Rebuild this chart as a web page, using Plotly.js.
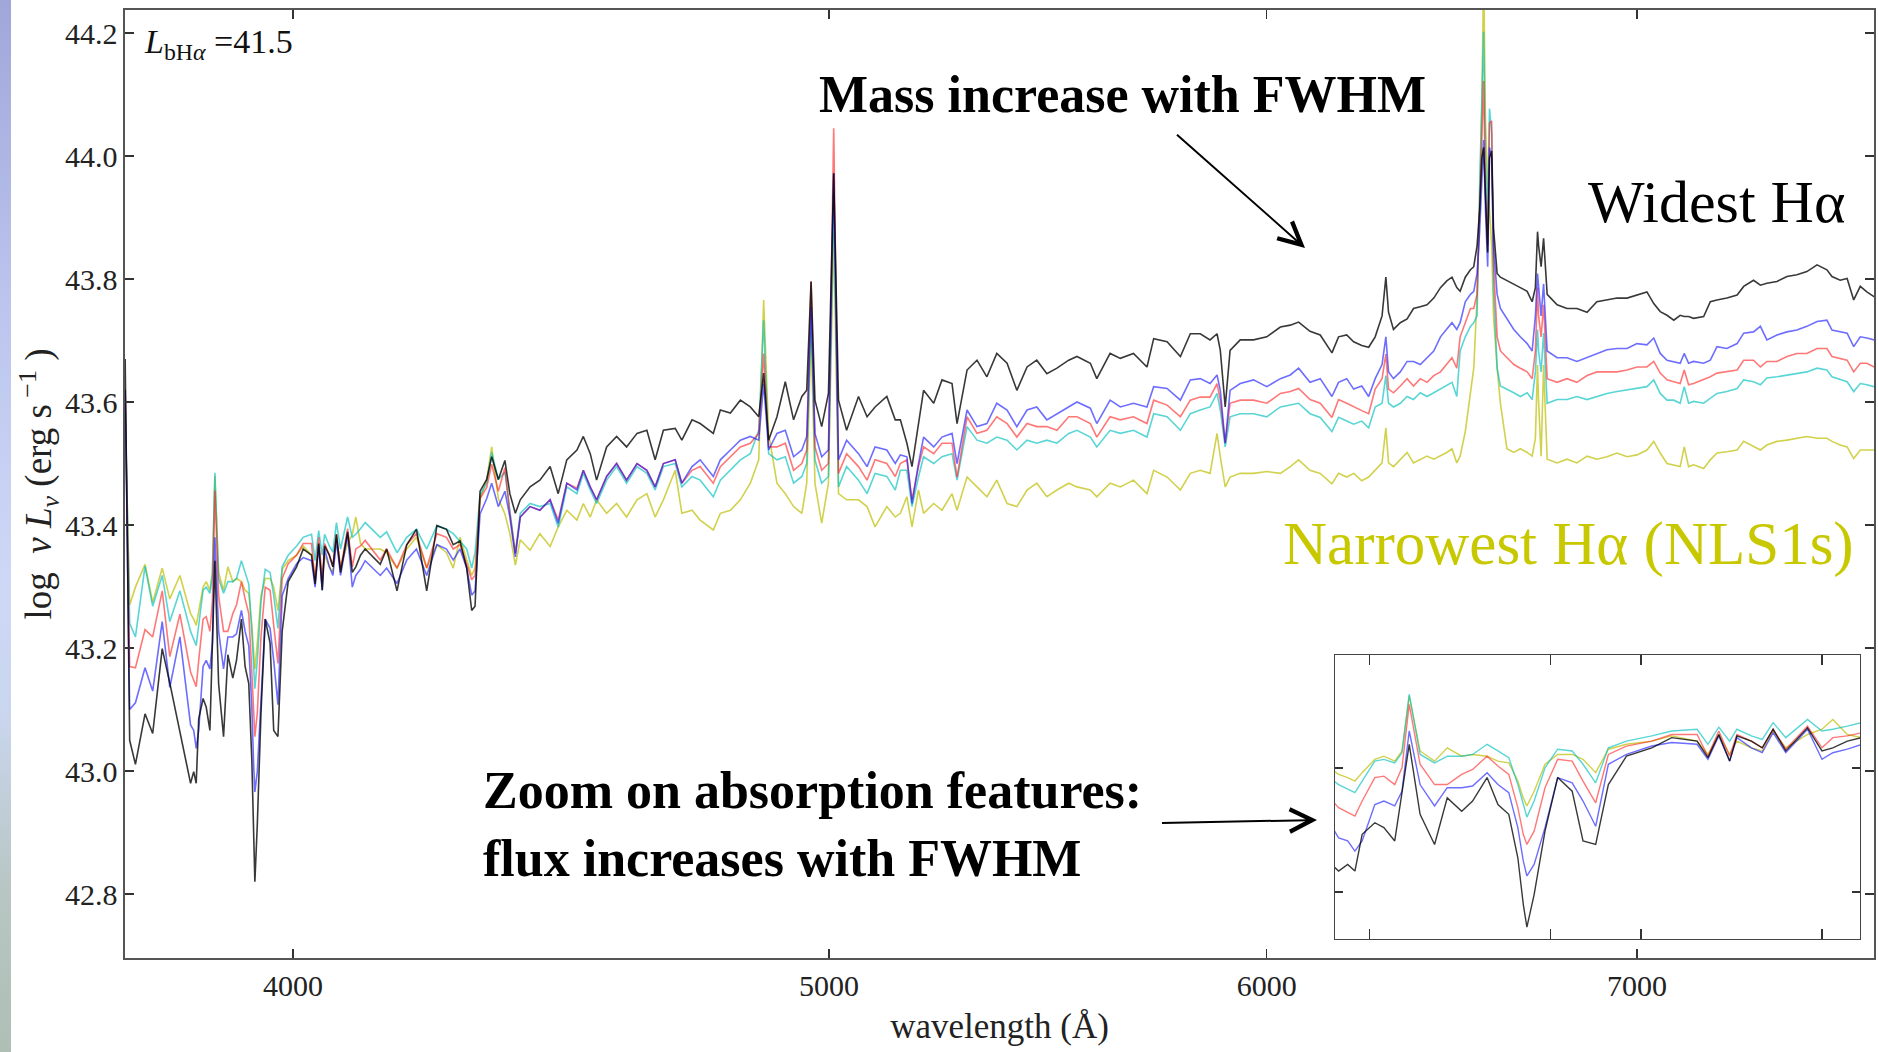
<!DOCTYPE html>
<html>
<head>
<meta charset="utf-8">
<script src="https://cdn.plot.ly/plotly-3.0.1.min.js"></script>
<style>
  html, body { margin: 0; padding: 0; background: #ffffff; }
  #wrap { position: relative; width: 1878px; height: 1052px; overflow: hidden; }
  #chart { position: absolute; left: 0; top: 0; width: 1878px; height: 1052px; }
  #strip { position: absolute; left: 0; top: 0; width: 11px; height: 1052px; z-index: 5;
           background: linear-gradient(to bottom, #9fa7d9 0%, #bcc6ee 30%, #cdd8f6 55%, #c9d6ee 68%, #b7c6c2 85%, #aebfb6 100%); }
</style>
</head>
<body>
<div id="wrap">
  <div id="chart"></div>
  <div id="strip"></div>
</div>
<script>
// ---------------- DATA ----------------
// wavelength in Angstrom
const wavelength = [
  3730, 3737, 3746, 3761, 3773, 3788, 3800, 3816,
  3833, 3838, 3842, 3846, 3853, 3858, 3864, 3868, 3872, 3878, 3886, 3893, 3901, 3907, 3915, 3921, 3927, 3932, 3935, 3937, 3941, 3947, 3954, 3962, 3968, 3975, 3982, 3992, 4006, 4017, 4031, 4037, 4043, 4049, 4053, 4061, 4067, 4073, 4080, 4092, 4100, 4106, 4114, 4122,
  4148, 4159, 4177, 4194, 4211, 4229, 4247, 4264, 4276, 4288, 4300, 4309, 4315, 4324, 4336, 4345, 4357, 4369,
  4378, 4388, 4397, 4415, 4433, 4452, 4467, 4483, 4502, 4514, 4527, 4539, 4558, 4577, 4596, 4616, 4635, 4651, 4667, 4690, 4703, 4723, 4739, 4765, 4779, 4799, 4819, 4839, 4856, 4866, 4876, 4893, 4910, 4927, 4944, 4954, 4963, 4971, 4985, 4999, 5010, 5020, 5037, 5062, 5080, 5097, 5122, 5140,
  5151, 5165, 5176, 5190, 5201, 5223, 5241, 5263, 5274, 5296, 5318, 5340, 5362, 5385, 5407, 5430, 5452, 5475, 5498, 5525, 5544, 5575, 5590, 5621, 5645, 5676, 5708, 5724, 5756, 5788, 5812, 5836, 5860, 5877, 5885, 5897, 5909, 5934, 5967, 6000, 6034, 6059, 6080,
  6109, 6135, 6165, 6182, 6203, 6221, 6242, 6260, 6277, 6295, 6305, 6312, 6325, 6343, 6361, 6378, 6396, 6414, 6432, 6450, 6467, 6481, 6494, 6503, 6517, 6531, 6540, 6549, 6556, 6562, 6567, 6572, 6578, 6583, 6589, 6594, 6604, 6613, 6631, 6650, 6668, 6687, 6701, 6710, 6716, 6719, 6726, 6733, 6743, 6771, 6799, 6827, 6856, 6884,
  6913, 6942, 6971, 7000, 7029, 7049, 7068, 7088, 7108, 7127, 7139, 7152, 7167, 7197, 7217, 7237, 7267, 7298, 7318, 7348, 7369, 7389, 7420, 7451, 7482, 7513, 7545, 7576, 7592, 7618, 7640, 7661, 7682, 7703, 7727
];

// log nuL_nu, widest H-alpha composite (black)
const lumBlack = [
  43.67, 43.05, 43.011, 43.093, 43.061, 43.199, 43.143, 43.061,
  42.980, 42.999, 42.980, 43.085, 43.118, 43.104, 43.066, 43.208, 43.342, 43.142, 43.056, 43.189, 43.151, 43.180, 43.247, 43.170, 43.142, 43.018, 42.885, 42.820, 42.913, 43.094, 43.247, 43.208, 43.066, 43.056, 43.227, 43.308, 43.332, 43.361, 43.351, 43.304, 43.370, 43.294, 43.366, 43.351, 43.332, 43.385, 43.323, 43.389, 43.323, 43.332, 43.351, 43.361,
  43.336, 43.361, 43.293, 43.368, 43.393, 43.293, 43.399, 43.393, 43.368, 43.374, 43.330, 43.261, 43.268, 43.455, 43.474, 43.511, 43.474, 43.505,
  43.451, 43.419, 43.441, 43.462, 43.473, 43.495, 43.451, 43.506, 43.522, 43.544, 43.516, 43.473, 43.527, 43.544, 43.527, 43.549, 43.554, 43.506, 43.554, 43.557, 43.538, 43.571, 43.565, 43.549, 43.587, 43.582, 43.603, 43.592, 43.576, 43.647, 43.538, 43.576, 43.633, 43.571, 43.609, 43.619, 43.796, 43.603, 43.560, 43.614, 43.972, 43.603, 43.554, 43.609, 43.576, 43.592, 43.609, 43.571,
  43.571, 43.533, 43.495, 43.565, 43.619, 43.598, 43.636, 43.630, 43.565, 43.652, 43.668, 43.641, 43.679, 43.663, 43.619, 43.657, 43.668, 43.646, 43.655, 43.668, 43.674, 43.663, 43.638, 43.679, 43.671, 43.679, 43.657, 43.703, 43.698, 43.674, 43.711, 43.711, 43.701, 43.711, 43.684, 43.592, 43.684, 43.701, 43.701, 43.706, 43.722, 43.725, 43.730,
  43.715, 43.709, 43.680, 43.706, 43.709, 43.698, 43.692, 43.689, 43.706, 43.740, 43.803, 43.746, 43.718, 43.729, 43.735, 43.752, 43.755, 43.758, 43.769, 43.786, 43.797, 43.803, 43.786, 43.780, 43.803, 43.815, 43.820, 43.854, 43.912, 43.997, 44.014, 43.934, 43.843, 43.997, 44.008, 43.883, 43.809, 43.803, 43.797, 43.792, 43.786, 43.780, 43.763, 43.786, 43.877, 43.854, 43.820, 43.866, 43.775, 43.758, 43.752, 43.752, 43.746, 43.763,
  43.766, 43.769, 43.769, 43.774, 43.779, 43.760, 43.747, 43.741, 43.733, 43.741, 43.739, 43.739, 43.736, 43.739, 43.763, 43.766, 43.769, 43.774, 43.788, 43.798, 43.790, 43.793, 43.796, 43.804, 43.807, 43.812, 43.823, 43.815, 43.804, 43.798, 43.801, 43.766, 43.788, 43.779, 43.771
];

// blue composite
const lumBlue = [
  43.62, 43.10, 43.111, 43.168, 43.130, 43.243, 43.136, 43.218,
  43.075, 43.066, 43.037, 43.066, 43.170, 43.180, 43.166, 43.208, 43.380, 43.227, 43.166, 43.218, 43.218, 43.223, 43.261, 43.227, 43.204, 43.104, 43.009, 42.966, 42.999, 43.104, 43.247, 43.232, 43.180, 43.108, 43.285, 43.313, 43.337, 43.347, 43.342, 43.299, 43.366, 43.294, 43.361, 43.332, 43.318, 43.375, 43.318, 43.385, 43.299, 43.318, 43.328, 43.342,
  43.318, 43.330, 43.305, 43.343, 43.361, 43.318, 43.368, 43.361, 43.343, 43.361, 43.330, 43.286, 43.293, 43.418, 43.443, 43.468, 43.430, 43.455,
  43.413, 43.348, 43.413, 43.430, 43.424, 43.441, 43.403, 43.468, 43.457, 43.489, 43.462, 43.441, 43.479, 43.500, 43.473, 43.500, 43.489, 43.462, 43.500, 43.506, 43.468, 43.495, 43.506, 43.479, 43.506, 43.522, 43.538, 43.544, 43.538, 43.630, 43.522, 43.549, 43.554, 43.511, 43.522, 43.544, 43.755, 43.549, 43.511, 43.522, 43.972, 43.506, 43.538, 43.516, 43.495, 43.527, 43.522, 43.500,
  43.514, 43.511, 43.435, 43.500, 43.543, 43.527, 43.543, 43.549, 43.500, 43.587, 43.560, 43.565, 43.598, 43.587, 43.560, 43.587, 43.592, 43.571, 43.581, 43.592, 43.600, 43.590, 43.565, 43.603, 43.592, 43.598, 43.592, 43.625, 43.622, 43.603, 43.636, 43.638, 43.630, 43.644, 43.619, 43.533, 43.619, 43.630, 43.636, 43.625, 43.638, 43.644, 43.655,
  43.632, 43.638, 43.609, 43.632, 43.638, 43.621, 43.626, 43.609, 43.638, 43.661, 43.706, 43.649, 43.638, 43.649, 43.666, 43.666, 43.661, 43.672, 43.683, 43.706, 43.718, 43.729, 43.718, 43.729, 43.763, 43.775, 43.780, 43.809, 43.877, 43.951, 44.026, 43.912, 43.820, 44.014, 43.997, 43.854, 43.775, 43.752, 43.735, 43.718, 43.706, 43.695, 43.683, 43.740, 43.809, 43.786, 43.740, 43.792, 43.683, 43.672, 43.672, 43.666, 43.672, 43.678,
  43.685, 43.687, 43.687, 43.695, 43.693, 43.704, 43.679, 43.668, 43.666, 43.663, 43.679, 43.663, 43.666, 43.663, 43.668, 43.690, 43.687, 43.695, 43.712, 43.714, 43.723, 43.701, 43.709, 43.714, 43.717, 43.723, 43.731, 43.733, 43.717, 43.714, 43.712, 43.690, 43.706, 43.704, 43.701
];

// red composite
const lumRed = [
  43.62, 43.17, 43.168, 43.230, 43.218, 43.293, 43.186, 43.255,
  43.161, 43.147, 43.137, 43.180, 43.247, 43.251, 43.227, 43.275, 43.456, 43.285, 43.227, 43.227, 43.256, 43.270, 43.308, 43.280, 43.256, 43.161, 43.085, 43.056, 43.094, 43.218, 43.299, 43.294, 43.237, 43.175, 43.313, 43.337, 43.351, 43.370, 43.370, 43.308, 43.380, 43.308, 43.370, 43.351, 43.332, 43.385, 43.328, 43.394, 43.332, 43.361, 43.366, 43.375,
  43.343, 43.361, 43.330, 43.368, 43.386, 43.330, 43.386, 43.380, 43.361, 43.368, 43.336, 43.311, 43.318, 43.443, 43.461, 43.499, 43.455, 43.493,
  43.419, 43.354, 43.413, 43.430, 43.424, 43.441, 43.408, 43.468, 43.460, 43.489, 43.462, 43.441, 43.479, 43.500, 43.473, 43.500, 43.489, 43.462, 43.500, 43.506, 43.468, 43.489, 43.495, 43.468, 43.495, 43.511, 43.527, 43.533, 43.549, 43.679, 43.527, 43.527, 43.533, 43.489, 43.500, 43.522, 43.796, 43.527, 43.489, 43.500, 44.045, 43.484, 43.516, 43.495, 43.473, 43.506, 43.500, 43.479,
  43.500, 43.506, 43.441, 43.495, 43.527, 43.516, 43.533, 43.533, 43.478, 43.576, 43.549, 43.554, 43.576, 43.565, 43.543, 43.565, 43.560, 43.560, 43.554, 43.576, 43.576, 43.565, 43.543, 43.576, 43.571, 43.576, 43.565, 43.603, 43.595, 43.576, 43.603, 43.608, 43.608, 43.630, 43.603, 43.533, 43.598, 43.603, 43.603, 43.598, 43.614, 43.617, 43.622,
  43.604, 43.598, 43.575, 43.604, 43.598, 43.592, 43.586, 43.581, 43.621, 43.638, 43.678, 43.621, 43.615, 43.626, 43.638, 43.626, 43.638, 43.632, 43.643, 43.649, 43.661, 43.672, 43.655, 43.706, 43.729, 43.752, 43.752, 43.775, 43.912, 44.037, 44.122, 43.940, 43.854, 44.054, 44.057, 43.826, 43.706, 43.683, 43.672, 43.661, 43.655, 43.649, 43.638, 43.683, 43.786, 43.740, 43.706, 43.758, 43.638, 43.632, 43.638, 43.632, 43.643, 43.649,
  43.649, 43.649, 43.652, 43.657, 43.657, 43.666, 43.647, 43.636, 43.633, 43.630, 43.652, 43.628, 43.630, 43.636, 43.641, 43.647, 43.649, 43.652, 43.668, 43.668, 43.657, 43.666, 43.666, 43.674, 43.679, 43.679, 43.687, 43.687, 43.674, 43.671, 43.668, 43.649, 43.663, 43.663, 43.657
];

// cyan composite
const lumCyan = [
  43.60, 43.24, 43.218, 43.333, 43.268, 43.318, 43.243, 43.293,
  43.227, 43.213, 43.204, 43.237, 43.294, 43.299, 43.289, 43.318, 43.485, 43.313, 43.289, 43.308, 43.308, 43.313, 43.342, 43.323, 43.304, 43.227, 43.166, 43.134, 43.180, 43.275, 43.328, 43.323, 43.285, 43.232, 43.332, 43.351, 43.366, 43.380, 43.385, 43.342, 43.391, 43.351, 43.385, 43.366, 43.356, 43.404, 43.361, 43.413, 43.380, 43.385, 43.394, 43.404,
  43.380, 43.389, 43.355, 43.380, 43.393, 43.361, 43.399, 43.393, 43.386, 43.374, 43.361, 43.330, 43.355, 43.449, 43.468, 43.518, 43.474, 43.486,
  43.424, 43.354, 43.419, 43.435, 43.430, 43.435, 43.397, 43.462, 43.451, 43.484, 43.457, 43.435, 43.473, 43.495, 43.468, 43.495, 43.484, 43.457, 43.495, 43.500, 43.462, 43.479, 43.473, 43.446, 43.473, 43.489, 43.506, 43.516, 43.554, 43.733, 43.516, 43.506, 43.511, 43.468, 43.479, 43.500, 43.744, 43.506, 43.468, 43.479, 43.939, 43.462, 43.495, 43.473, 43.451, 43.484, 43.479, 43.457,
  43.489, 43.489, 43.430, 43.478, 43.511, 43.500, 43.511, 43.516, 43.473, 43.560, 43.538, 43.533, 43.543, 43.538, 43.522, 43.538, 43.533, 43.538, 43.533, 43.549, 43.554, 43.543, 43.527, 43.554, 43.549, 43.554, 43.543, 43.581, 43.576, 43.554, 43.581, 43.587, 43.592, 43.614, 43.587, 43.527, 43.576, 43.581, 43.581, 43.576, 43.592, 43.595, 43.598,
  43.581, 43.575, 43.552, 43.575, 43.569, 43.564, 43.569, 43.558, 43.592, 43.598, 43.643, 43.598, 43.592, 43.598, 43.609, 43.604, 43.615, 43.609, 43.615, 43.621, 43.626, 43.632, 43.609, 43.683, 43.706, 43.723, 43.729, 43.740, 43.951, 44.083, 44.202, 43.997, 43.894, 44.077, 44.037, 43.786, 43.655, 43.626, 43.621, 43.615, 43.609, 43.615, 43.604, 43.649, 43.718, 43.683, 43.649, 43.712, 43.598, 43.604, 43.604, 43.609, 43.604, 43.609,
  43.614, 43.617, 43.620, 43.622, 43.625, 43.636, 43.614, 43.603, 43.603, 43.598, 43.625, 43.598, 43.601, 43.598, 43.606, 43.614, 43.617, 43.622, 43.636, 43.633, 43.628, 43.639, 43.641, 43.644, 43.647, 43.649, 43.655, 43.652, 43.641, 43.636, 43.633, 43.617, 43.630, 43.628, 43.625
];

// narrowest H-alpha composite, NLS1s (yellow)
const lumYellow = [
  43.58, 43.27, 43.299, 43.336, 43.274, 43.330, 43.280, 43.318,
  43.256, 43.247, 43.237, 43.261, 43.299, 43.308, 43.294, 43.323, 43.480, 43.323, 43.294, 43.332, 43.308, 43.313, 43.308, 43.294, 43.289, 43.237, 43.189, 43.166, 43.208, 43.285, 43.313, 43.313, 43.299, 43.261, 43.328, 43.342, 43.351, 43.366, 43.351, 43.313, 43.370, 43.313, 43.351, 43.332, 43.323, 43.380, 43.332, 43.370, 43.385, 43.413, 43.370, 43.361,
  43.361, 43.355, 43.330, 43.361, 43.380, 43.330, 43.368, 43.355, 43.330, 43.380, 43.343, 43.318, 43.330, 43.443, 43.474, 43.527, 43.443, 43.418,
  43.386, 43.335, 43.376, 43.359, 43.386, 43.365, 43.397, 43.424, 43.408, 43.435, 43.413, 43.441, 43.419, 43.435, 43.413, 43.441, 43.451, 43.413, 43.441, 43.489, 43.419, 43.424, 43.408, 43.392, 43.419, 43.424, 43.441, 43.468, 43.506, 43.766, 43.549, 43.468, 43.451, 43.430, 43.419, 43.468, 43.712, 43.468, 43.403, 43.468, 43.874, 43.451, 43.441, 43.441, 43.430, 43.397, 43.430, 43.413,
  43.419, 43.446, 43.397, 43.457, 43.419, 43.435, 43.424, 43.451, 43.424, 43.478, 43.462, 43.446, 43.473, 43.435, 43.430, 43.457, 43.468, 43.446, 43.457, 43.468, 43.462, 43.457, 43.446, 43.468, 43.462, 43.473, 43.451, 43.489, 43.478, 43.457, 43.484, 43.489, 43.484, 43.549, 43.511, 43.462, 43.478, 43.484, 43.484, 43.487, 43.484, 43.495, 43.506,
  43.489, 43.484, 43.467, 43.484, 43.478, 43.484, 43.472, 43.478, 43.489, 43.501, 43.558, 43.501, 43.495, 43.507, 43.518, 43.501, 43.507, 43.512, 43.507, 43.512, 43.518, 43.524, 43.501, 43.512, 43.552, 43.615, 43.655, 43.769, 43.912, 44.083, 44.300, 44.054, 43.957, 43.912, 43.854, 43.740, 43.655, 43.598, 43.524, 43.518, 43.524, 43.518, 43.512, 43.541, 43.660, 43.600, 43.512, 43.660, 43.507, 43.501, 43.507, 43.501, 43.512, 43.507,
  43.511, 43.517, 43.511, 43.514, 43.522, 43.536, 43.517, 43.500, 43.498, 43.495, 43.527, 43.495, 43.498, 43.492, 43.506, 43.517, 43.519, 43.522, 43.536, 43.527, 43.522, 43.530, 43.536, 43.538, 43.541, 43.544, 43.541, 43.541, 43.536, 43.530, 43.527, 43.508, 43.522, 43.522, 43.522
];

// ticks
const xTickVals = [4000, 5000, 6000, 7000];
const xTickText = ['4000', '5000', '6000', '7000'];
const yTickVals = [42.8, 43.0, 43.2, 43.4, 43.6, 43.8, 44.0, 44.2];
const yTickText = ['42.8', '43.0', '43.2', '43.4', '43.6', '43.8', '44.0', '44.2'];
const insetXTickVals = [3850, 3950, 4000, 4100];
const insetYTickVals = [42.92, 43.274];

// ---------------- STYLE / LAYOUT ----------------
const W = 1878, H = 1052;
const PL = 125, PR = 1874, PT = 10, PB = 958;       // plot area in pixels
const pw = PR - PL, ph = PB - PT;
function px(x) { return (x - PL) / pw; }
function py(y) { return (PB - y) / ph; }

const SERIF = 'Liberation Serif, Times New Roman, serif';

const series = [
  { y: lumYellow, color: 'rgba(190,190,0,0.70)' },
  { y: lumCyan,   color: 'rgba(0,190,190,0.65)' },
  { y: lumRed,    color: 'rgba(255,30,30,0.60)' },
  { y: lumBlue,   color: 'rgba(20,20,255,0.62)' },
  { y: lumBlack,  color: 'rgba(0,0,0,0.78)' }
];

const traces = [];
series.forEach(s => {
  traces.push({ type: 'scatter', mode: 'lines', x: wavelength, y: s.y, xaxis: 'x', yaxis: 'y',
    line: { color: s.color, width: 1.6 }, hoverinfo: 'skip', showlegend: false });
});
series.forEach(s => {
  traces.push({ type: 'scatter', mode: 'lines', x: wavelength, y: s.y, xaxis: 'x2', yaxis: 'y2',
    line: { color: s.color, width: 1.4 }, hoverinfo: 'skip', showlegend: false });
});

const axisCommon = {
  showgrid: false, zeroline: false, showline: true, linecolor: '#555', linewidth: 1.6,
  ticks: 'inside', ticklen: 9, tickwidth: 1.3, tickcolor: '#333', mirror: 'ticks'
};

const insetL = 1335, insetR = 1860, insetT = 655, insetB = 939;

const layout = {
  width: W, height: H,
  margin: { l: PL, r: W - PR, t: PT, b: H - PB, pad: 0 },
  paper_bgcolor: 'rgba(0,0,0,0)', plot_bgcolor: '#ffffff',
  showlegend: false,
  font: { family: SERIF, color: '#111' },
  xaxis: Object.assign({}, axisCommon, {
    type: 'log', range: [3.57168, 3.887955], domain: [0, 1], anchor: 'y',
    tickvals: xTickVals, ticktext: xTickText,
    tickfont: { family: SERIF, size: 30, color: '#222' }, ticklabelstandoff: 0,
    title: { text: 'wavelength (Å)', font: { family: SERIF, size: 35, color: '#222' }, standoff: 13 }
  }),
  yaxis: Object.assign({}, axisCommon, {
    range: [42.696, 44.2374], domain: [0, 1], anchor: 'x',
    tickvals: yTickVals, ticktext: yTickText,
    tickfont: { family: SERIF, size: 30, color: '#222' }, ticklabelstandoff: 0,
    title: { text: 'log&nbsp;&nbsp;<i>ν</i>&nbsp;<i>L</i><sub><i>ν</i></sub>&nbsp;(erg&nbsp;s<sup>&nbsp;−1</sup>&nbsp;)',
             font: { family: SERIF, size: 37, color: '#222' }, standoff: 0 }
  }),
  xaxis2: Object.assign({}, axisCommon, {
    domain: [px(insetL), px(insetR)], anchor: 'y2', range: [3831, 4121],
    tickvals: insetXTickVals, showticklabels: false, ticklen: 10, linecolor: '#444', linewidth: 1.4
  }),
  yaxis2: Object.assign({}, axisCommon, {
    domain: [py(insetB), py(insetT)], anchor: 'x2', range: [42.786, 43.597],
    tickvals: insetYTickVals, showticklabels: false, ticklen: 8, linecolor: '#444', linewidth: 1.4
  }),
  shapes: [
    { type: 'rect', xref: 'paper', yref: 'paper', x0: px(insetL), x1: px(insetR), y0: py(insetB), y1: py(insetT),
      fillcolor: '#ffffff', line: { width: 0 }, layer: 'below' }
  ],
  annotations: [
    { xref: 'paper', yref: 'paper', x: px(142), y: py(44), xanchor: 'left', yanchor: 'middle', showarrow: false,
      text: '<i>L</i><sub>bH<i>α</i></sub> =41.5', font: { family: SERIF, size: 34, color: '#111' } },
    { xref: 'paper', yref: 'paper', x: px(1122), y: py(94), xanchor: 'center', yanchor: 'middle', showarrow: false,
      text: '<b>Mass increase with FWHM</b>', font: { family: SERIF, size: 52, color: '#000' } },
    { xref: 'paper', yref: 'paper', x: px(1305), y: py(248), ax: -131, ay: -116, axref: 'pixel', ayref: 'pixel',
      showarrow: true, arrowhead: 5, arrowsize: 2.2, arrowwidth: 2, arrowcolor: '#000', text: ' ' },
    { xref: 'paper', yref: 'paper', x: px(1716), y: py(202), xanchor: 'center', yanchor: 'middle', showarrow: false,
      text: 'Widest Hα', font: { family: SERIF, size: 60, color: '#000' } },
    { xref: 'paper', yref: 'paper', x: px(1568), y: py(544), xanchor: 'center', yanchor: 'middle', showarrow: false,
      text: 'Narrowest Hα (NLS1s)', font: { family: SERIF, size: 61, color: '#c8c800' } },
    { xref: 'paper', yref: 'paper', x: px(481), y: py(824), xanchor: 'left', yanchor: 'middle', align: 'left', showarrow: false,
      text: '<b>Zoom on absorption features:</b><br><b>flux increases with FWHM</b>', font: { family: SERIF, size: 52, color: '#000' } },
    { xref: 'paper', yref: 'paper', x: px(1317), y: py(820), ax: -158, ay: 3, axref: 'pixel', ayref: 'pixel',
      showarrow: true, arrowhead: 5, arrowsize: 2.2, arrowwidth: 2, arrowcolor: '#000', text: ' ' }
  ]
};

Plotly.newPlot('chart', traces, layout, { displayModeBar: false, staticPlot: true });
</script>
</body>
</html>
